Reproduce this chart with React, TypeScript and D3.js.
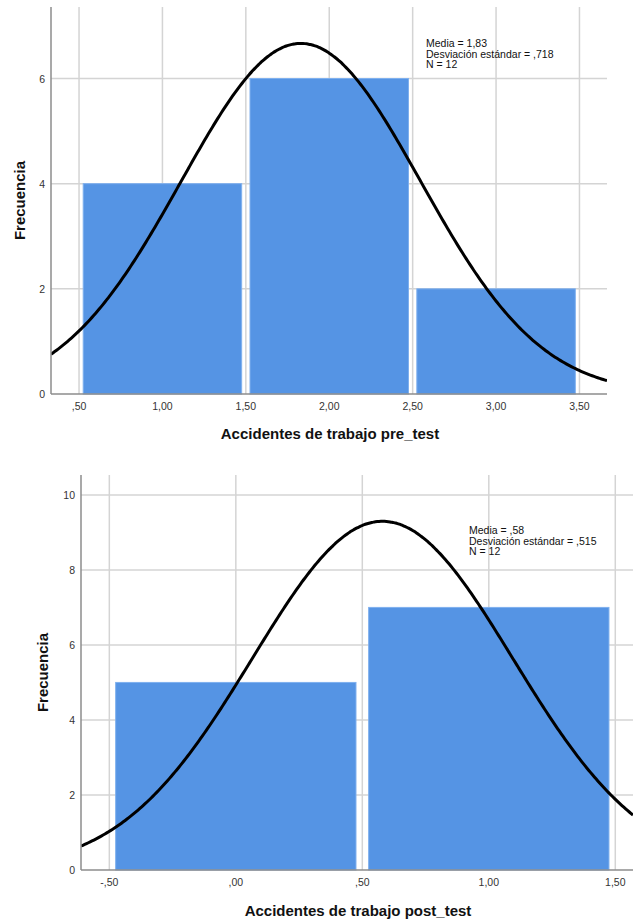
import React from "react";
import * as d3 from "d3";

const W = 633;
const H = 921;
const FONT = "Arial, 'Liberation Sans', sans-serif";
const BAR = "#5594e4";
const GRID = "#d4d4d4";

// pre_test
const preBins = [0.5, 1.5, 2.5];
const preCounts = [4, 6, 2];
const preXTicks = [0.5, 1, 1.5, 2, 2.5, 3, 3.5];
const preYTicks = [0, 2, 4, 6];
const preStats = { mean: 1.83, sd: 0.718, n: 12 };
const preStatLabels = ["Media = 1,83", "Desviación estándar = ,718", "N = 12"];

// post_test
const postBins = [-0.5, 0.5];
const postCounts = [5, 7];
const postXTicks = [-0.5, 0, 0.5, 1, 1.5];
const postYTicks = [0, 2, 4, 6, 8, 10];
const postStats = { mean: 0.58, sd: 0.515, n: 12 };
const postStatLabels = ["Media = ,58", "Desviación estándar = ,515", "N = 12"];

const fmt = (v: number) => {
  const s = Math.abs(v).toFixed(2).replace(".", ",").replace(/^0/, "");
  return (v < 0 ? "-" : "") + s;
};

type HistProps = {
  id: string;
  bins: number[];
  counts: number[];
  binWidth: number;
  xTicks: number[];
  yTicks: number[];
  stats: { mean: number; sd: number; n: number };
  statLabels: string[];
  xDomain: [number, number];
  yMax: number;
  left: number;
  right: number;
  top: number;
  bottom: number;
  statX: number;
  statY: number;
  yLabelX: number;
  xLabelY: number;
  xLabel: string;
};

const Histogram = (p: HistProps) => {
  const x = d3.scaleLinear().domain(p.xDomain).range([p.left, p.right]);
  const y = d3.scaleLinear().domain([0, p.yMax]).range([p.bottom, p.top]);
  // normal curve scaled to the histogram counts
  const pdf = (v: number) =>
    (p.stats.n * p.binWidth) / (p.stats.sd * Math.sqrt(2 * Math.PI)) *
    Math.exp(-0.5 * ((v - p.stats.mean) / p.stats.sd) ** 2);
  const curvePts = d3.range(p.xDomain[0], p.xDomain[1] + 0.001, (p.xDomain[1] - p.xDomain[0]) / 300);
  const line = d3.line<number>().x((d) => x(d)).y((d) => y(pdf(d))).curve(d3.curveBasis);
  const inset = (x(p.binWidth) - x(0)) * 0.025;

  return (
    <g>
      <defs>
        <clipPath id={p.id}>
          <rect x={p.left} y={p.top} width={p.right - p.left} height={p.bottom - p.top} />
        </clipPath>
      </defs>
      {p.yTicks.filter((t) => t > 0).map((t) => (
        <line key={"h" + t} x1={p.left} x2={p.right} y1={y(t)} y2={y(t)} stroke={GRID} strokeWidth={1.5} />
      ))}
      {p.xTicks.map((t) => (
        <line key={"v" + t} x1={x(t)} x2={x(t)} y1={p.top} y2={p.bottom} stroke={GRID} strokeWidth={1.5} />
      ))}
      {p.bins.map((b, i) => (
        <rect
          key={"b" + i}
          x={x(b) + inset}
          y={y(p.counts[i])}
          width={x(b + p.binWidth) - x(b) - 2 * inset}
          height={y(0) - y(p.counts[i])}
          fill={BAR}
          stroke="#7fb0ee"
          strokeWidth={1}
        />
      ))}
      <path d={line(curvePts) || ""} fill="none" stroke="#000" strokeWidth={3} clipPath={`url(#${p.id})`} />
      <line x1={p.left} x2={p.left} y1={p.top} y2={p.bottom} stroke="#8c8c8c" strokeWidth={1.5} />
      <line x1={p.left} x2={p.right} y1={p.bottom} y2={p.bottom} stroke="#8c8c8c" strokeWidth={1.5} />
      {p.yTicks.map((t) => (
        <text key={"yt" + t} x={p.left - 6} y={y(t) + 4} textAnchor="end" fontSize={10.5} fill="#333" fontFamily={FONT}>
          {t}
        </text>
      ))}
      {p.xTicks.map((t) => (
        <text key={"xt" + t} x={x(t)} y={p.bottom + 16} textAnchor="middle" fontSize={10.5} fill="#333" fontFamily={FONT}>
          {fmt(t)}
        </text>
      ))}
      {p.statLabels.map((s, i) => (
        <text key={"s" + i} x={p.statX} y={p.statY + i * 10.6} fontSize={10.5} fill="#111" fontFamily={FONT}>
          {s}
        </text>
      ))}
      <text
        transform={`translate(${p.yLabelX},${(p.top + p.bottom) / 2}) rotate(-90)`}
        textAnchor="middle"
        fontSize={15}
        fontWeight="bold"
        fontFamily={FONT}
        fill="#111"
      >
        Frecuencia
      </text>
      <text x={(p.left + p.right) / 2 + 1} y={p.xLabelY} textAnchor="middle" fontSize={15} fontWeight="bold" fontFamily={FONT} fill="#111">
        {p.xLabel}
      </text>
    </g>
  );
};

export default function App() {
  return (
    <svg width={W} height={H} style={{ position: "absolute", left: 0, top: 0, background: "#fff" }}>
      <rect width={W} height={H} fill="#fff" />
      <Histogram
        id="clipPre"
        bins={preBins}
        counts={preCounts}
        binWidth={1}
        xTicks={preXTicks}
        yTicks={preYTicks}
        stats={preStats}
        statLabels={preStatLabels}
        xDomain={[0.332, 3.665]}
        yMax={7.36}
        left={51}
        right={607}
        top={7}
        bottom={394}
        statX={426}
        statY={47}
        yLabelX={25}
        xLabelY={439}
        xLabel="Accidentes de trabajo pre_test"
      />
      <Histogram
        id="clipPost"
        bins={postBins}
        counts={postCounts}
        binWidth={1}
        xTicks={postXTicks}
        yTicks={postYTicks}
        stats={postStats}
        statLabels={postStatLabels}
        xDomain={[-0.612, 1.57]}
        yMax={10.53}
        left={81}
        right={633}
        top={475}
        bottom={870}
        statX={469}
        statY={534}
        yLabelX={48}
        xLabelY={916}
        xLabel="Accidentes de trabajo post_test"
      />
    </svg>
  );
}
